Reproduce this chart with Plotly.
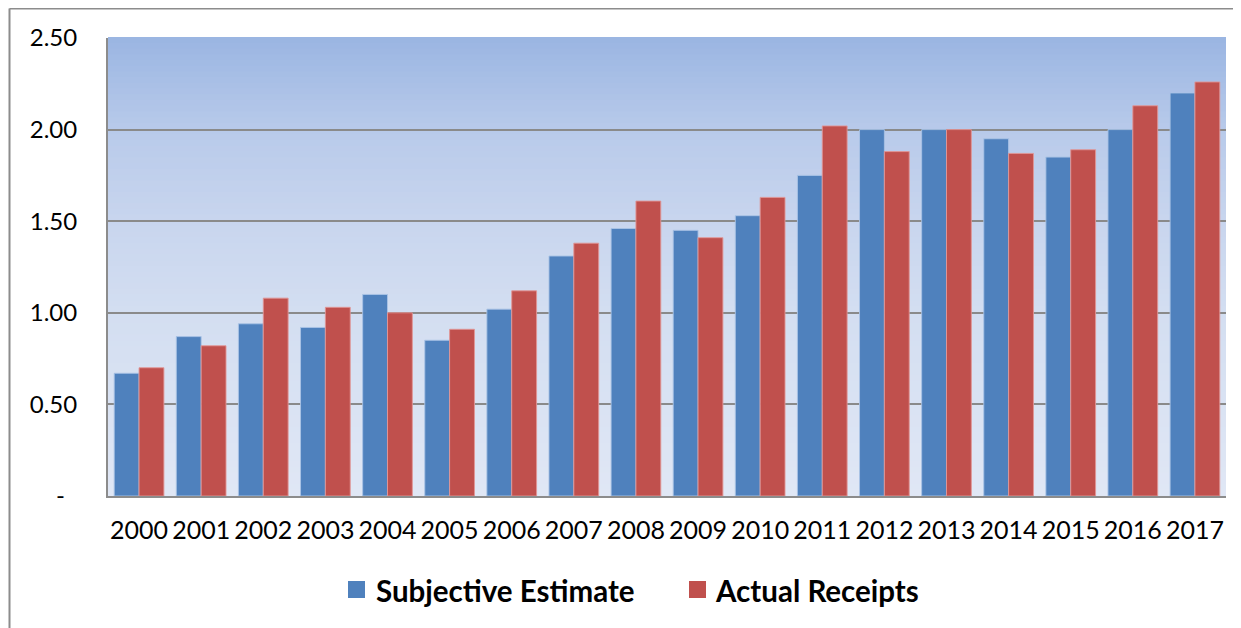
import plotly.graph_objects as go

years = [str(y) for y in range(2000, 2018)]
series_names = ["Subjective Estimate", "Actual Receipts"]
subjective = [0.67, 0.87, 0.94, 0.92, 1.10, 0.85, 1.02, 1.31, 1.46, 1.45,
              1.53, 1.75, 2.00, 2.00, 1.95, 1.85, 2.00, 2.20]
actual = [0.70, 0.82, 1.08, 1.03, 1.00, 0.91, 1.12, 1.38, 1.61, 1.41,
          1.63, 2.02, 1.88, 2.00, 1.87, 1.89, 2.13, 2.26]
y_ticks = [0, 0.5, 1.0, 1.5, 2.0, 2.5]
y_ticktext = ["-\u00a0\u00a0", "0.50", "1.00", "1.50", "2.00", "2.50"]
colors = ["#4F81BD", "#C0504D"]
edge_colors = ["rgba(170,195,230,0.9)", "rgba(225,150,150,0.9)"]

# page offset of the plot div (default body margin)
OFF = 8
W, H = 1241 - OFF, 628 - OFF
ML, MR, MT, MB = 108 - OFF, 15, 38 - OFF, 132
PW, PH = W - ML - MR, H - MT - MB

fig = go.Figure()
for name, vals, c, ec in zip(series_names, [subjective, actual], colors, edge_colors):
    fig.add_trace(go.Bar(x=years, y=vals, name=name, marker=dict(color=c, line=dict(color=ec, width=1)),
                         showlegend=False))

# gradient background in plot area
stops = [(0.0, (154, 181, 226)), (0.2, (184, 202, 234)), (0.4, (200, 213, 238)),
         (0.6, (211, 222, 241)), (1.0, (224, 231, 245))]

def col_at(t):
    for (t0, c0), (t1, c1) in zip(stops[:-1], stops[1:]):
        if t0 <= t <= t1:
            f = (t - t0) / (t1 - t0)
            return "rgb(%d,%d,%d)" % tuple(round(a + (b - a) * f) for a, b in zip(c0, c1))
    return "rgb(%d,%d,%d)" % stops[-1][1]

shapes = []
N = 80
for i in range(N):
    t = (i + 0.5) / N
    shapes.append(dict(type="rect", xref="x domain", yref="y domain", x0=0, x1=1,
                       y0=1 - (i + 1) / N, y1=1 - i / N + 0.002, fillcolor=col_at(t),
                       line=dict(width=0), layer="below"))

# page pixel -> paper coordinate
def px2paper_x(p):
    return (p - OFF - ML) / PW

def px2paper_y(p):
    return (H - MB - (p - OFF)) / PH

# outer chart border (top and left visible)
BX, BY = 9.5, 8.5
shapes.append(dict(type="line", xref="paper", yref="paper", x0=px2paper_x(BX), x1=px2paper_x(1260),
                   y0=px2paper_y(BY), y1=px2paper_y(BY), line=dict(color="#8C8C8C", width=2)))
shapes.append(dict(type="line", xref="paper", yref="paper", x0=px2paper_x(BX), x1=px2paper_x(BX),
                   y0=px2paper_y(BY), y1=px2paper_y(650), line=dict(color="#8C8C8C", width=2)))

# custom legend
annotations = []
legend_items = [(348, 374), (689, 713)]
for (sq_x, tx_x), name, c in zip(legend_items, series_names, colors):
    shapes.append(dict(type="rect", xref="paper", yref="paper",
                       x0=px2paper_x(sq_x), x1=px2paper_x(sq_x + 17),
                       y0=px2paper_y(598), y1=px2paper_y(581), fillcolor=c, line=dict(width=0)))
    annotations.append(dict(xref="paper", yref="paper", x=px2paper_x(tx_x), y=px2paper_y(590),
                            xanchor="left", yanchor="middle", showarrow=False, text="<b>%s</b>" % name,
                            font=dict(family="Lato", size=29.5, color="black")))

fig.update_layout(
    width=W, height=H,
    margin=dict(l=ML, r=MR, t=MT, b=MB),
    paper_bgcolor="white", plot_bgcolor="#DDE5F4",
    barmode="group", bargap=0.2, bargroupgap=0,
    font=dict(family="Lato", size=24, color="black"),
    shapes=shapes, annotations=annotations,
    showlegend=False,
    xaxis=dict(showgrid=False, showline=True, linecolor="#8C8C8C", linewidth=2,
               ticks="", tickfont=dict(size=25), ticklabelstandoff=11),
    yaxis=dict(range=[0, 2.5], tickvals=y_ticks, ticktext=y_ticktext,
               showgrid=True, gridcolor="#8A8A8A", gridwidth=2,
               showline=True, linecolor="#8C8C8C", linewidth=2,
               zeroline=False, ticks="", ticklabelstandoff=24, tickfont=dict(size=24)),
)

fig.write_html("out.html")
